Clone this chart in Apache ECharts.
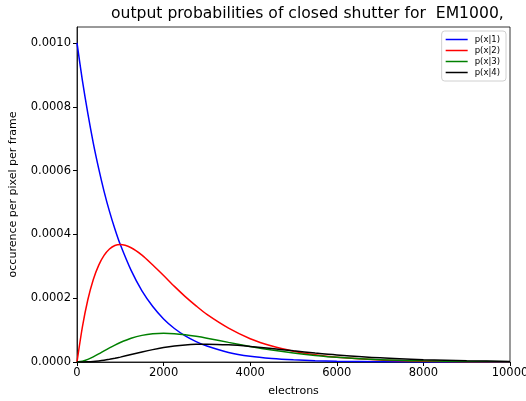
<!DOCTYPE html>
<html>
<head>
<meta charset="utf-8">
<script src="https://cdn.jsdelivr.net/npm/echarts@6/dist/echarts.min.js"></script>
<style>
  html, body { margin: 0; padding: 0; background: #fff; }
  #chart { width: 526px; height: 401px; }
</style>
</head>
<body>
<div id="chart"></div>
<script>
// Electron counts at which each probability curve is sampled
const electrons = [0, 125, 250, 375, 500, 625, 750, 875, 1000, 1250, 1500, 1750, 2000, 2250, 2500, 2750, 3000, 3500, 4000, 4500, 5000, 5500, 6000, 7000, 8000, 9000, 10000];

// p(x|n): occurrence per pixel per frame for n input electrons
const p1 = [0.00100, 0.000882, 0.000779, 0.000687, 0.000607, 0.000535, 0.000472, 0.000417, 0.000368, 0.000287, 0.000223, 0.000174, 0.000135, 0.000105, 0.000082, 0.000064, 0.000050, 0.000030, 0.000018, 0.000011, 0.0000067, 0.0000041, 0.0000025, 0.0000009, 0.0000003, 0.0000001, 0.00000005];
const p2 = [0.0, 0.00011, 0.000195, 0.000258, 0.000303, 0.000334, 0.000354, 0.000365, 0.000368, 0.000358, 0.000335, 0.000304, 0.000271, 0.000237, 0.000205, 0.000176, 0.000149, 0.000106, 0.000073, 0.00005, 0.000034, 0.0000225, 0.0000149, 0.0000064, 0.0000027, 0.0000011, 0.00000045];
const p3 = [0.0, 0.0000023, 0.0000081, 0.0000161, 0.0000252, 0.0000348, 0.0000442, 0.0000531, 0.0000612, 0.0000744, 0.0000835, 0.0000885, 0.00009, 0.0000887, 0.0000853, 0.0000804, 0.0000745, 0.0000615, 0.0000487, 0.0000374, 0.000028, 0.0000206, 0.0000148, 0.0000074, 0.0000036, 0.0000017, 0.00000075];
const p4 = [0.0, 0.00000007, 0.0000005, 0.0000015, 0.0000032, 0.0000054, 0.0000083, 0.0000116, 0.0000153, 0.0000233, 0.0000314, 0.0000388, 0.0000451, 0.00005, 0.0000534, 0.0000554, 0.000056, 0.0000539, 0.0000488, 0.0000422, 0.0000351, 0.0000283, 0.0000223, 0.000013, 0.0000072, 0.0000037, 0.0000019];

const seriesNames = ['p(x|1)', 'p(x|2)', 'p(x|3)', 'p(x|4)'];
const seriesData = [p1, p2, p3, p4];
const seriesColors = ['#0000ff', '#ff0000', '#008000', '#000000'];

const xTicks = [0, 2000, 4000, 6000, 8000, 10000];
const yTicks = [0, 0.0002, 0.0004, 0.0006, 0.0008, 0.0010];

const font = 'DejaVu Sans';
const chart = echarts.init(document.getElementById('chart'), null, { renderer: 'canvas' });

chart.setOption({
  animation: false,
  backgroundColor: '#ffffff',
  title: {
    text: 'output probabilities of closed shutter for  EM1000,',
    left: 111,
    top: 6,
    padding: 0,
    textStyle: { fontFamily: font, fontSize: 15.6, fontWeight: 'normal', color: '#000' }
  },
  legend: {
    orient: 'vertical',
    right: 20,
    top: 31,
    padding: [4, 6, 4, 4],
    itemGap: 2,
    itemWidth: 22,
    itemHeight: 9,
    borderColor: '#d0d0d0',
    borderWidth: 1,
    borderRadius: 3,
    backgroundColor: '#fff',
    icon: 'path://M0,4 L22,4 L22,5.5 L0,5.5 Z',
    textStyle: { fontFamily: font, fontSize: 8.5, color: '#000', padding: [0, 0, 0, 2] },
    data: seriesNames
  },
  grid: {
    left: 77, right: 16, top: 27, bottom: 39,
    show: true, borderColor: '#000', borderWidth: 0.8,
    containLabel: false,
    outerBoundsMode: 'none'
  },
  xAxis: {
    type: 'value',
    min: 0, max: 10000, interval: 2000,
    name: 'electrons',
    nameLocation: 'middle',
    nameGap: 24,
    nameTextStyle: { fontFamily: font, fontSize: 11, color: '#000' },
    axisLine: { show: true, lineStyle: { color: '#000', width: 0.8 } },
    axisTick: { show: true, inside: false, length: 4, lineStyle: { color: '#000' }, customValues: xTicks },
    axisLabel: {
      fontFamily: font, fontSize: 11.5, color: '#000', margin: 5,
      customValues: xTicks,
      formatter: v => String(v)
    },
    splitLine: { show: false }
  },
  yAxis: {
    type: 'value',
    min: 0, max: 0.00105,
    name: 'occurence per pixel per frame',
    nameLocation: 'middle',
    nameGap: 58,
    nameTextStyle: { fontFamily: font, fontSize: 11, color: '#000' },
    axisLine: { show: true, lineStyle: { color: '#000', width: 0.8 } },
    axisTick: { show: true, inside: false, length: 4, lineStyle: { color: '#000' }, customValues: yTicks },
    axisLabel: {
      fontFamily: font, fontSize: 11.5, color: '#000', margin: 6,
      customValues: yTicks,
      formatter: v => v.toFixed(4)
    },
    splitLine: { show: false }
  },
  series: seriesNames.map((name, i) => ({
    name: name,
    type: 'line',
    data: electrons.map((x, j) => [x, seriesData[i][j]]),
    smooth: 0.25,
    showSymbol: false,
    symbol: 'none',
    clip: true,
    lineStyle: { color: seriesColors[i], width: 1.5 },
    itemStyle: { color: seriesColors[i] },
    z: 2 + i
  }))
});
</script>
</body>
</html>
